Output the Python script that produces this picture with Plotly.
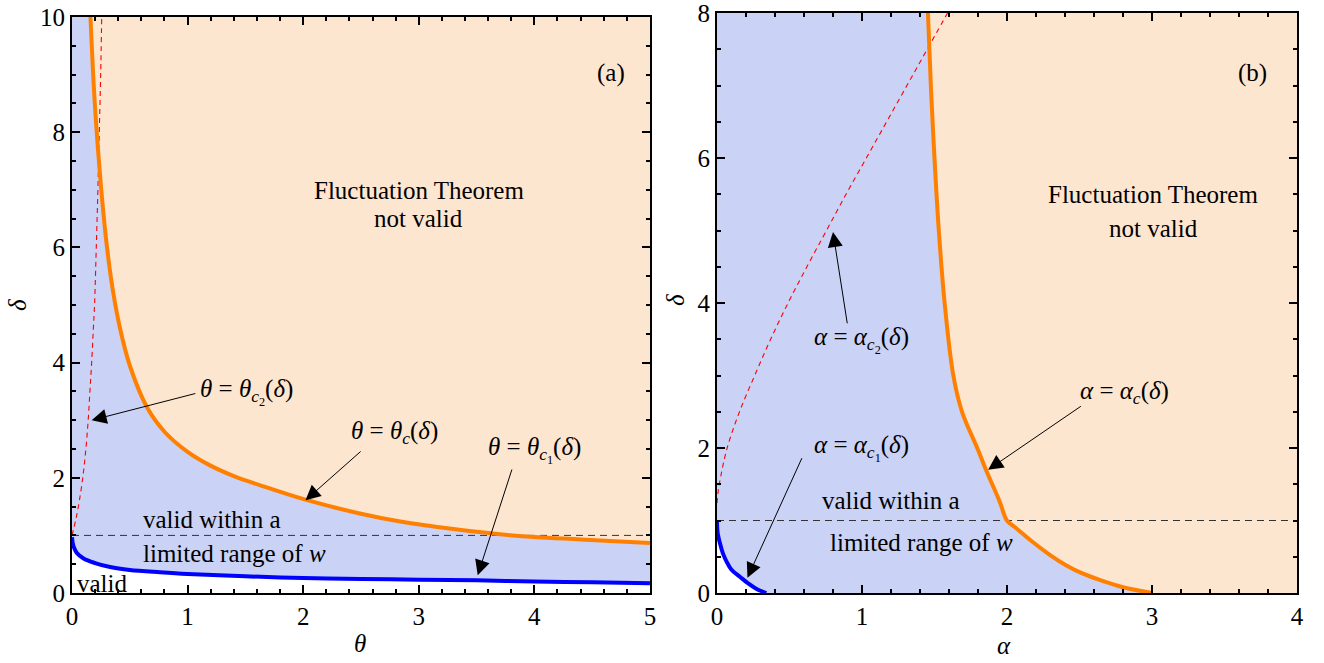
import plotly.graph_objects as go

# ---------------- Panel (a): delta vs theta ----------------
theta_c = [0.16, 0.19, 0.225, 0.26, 0.30, 0.35, 0.415, 0.50, 0.65, 0.80, 1.0, 1.19, 1.40, 1.63, 2.02, 2.49, 2.84, 3.3, 3.81, 4.4, 5.0]
delta_c_a = [10.0, 8.75, 7.7, 6.85, 6.05, 5.3, 4.6, 3.95, 3.22, 2.80, 2.45, 2.22, 2.03, 1.87, 1.62, 1.38, 1.24, 1.11, 1.0, 0.93, 0.87]

theta_c1 = [0, 0.005, 0.015, 0.04, 0.1, 0.2, 0.33, 0.5, 0.76, 1.0, 1.5, 2.0, 2.5, 3.0, 3.5, 4.0, 4.5, 5.0]
delta_c1_a = [0.97, 0.88, 0.80, 0.70, 0.60, 0.52, 0.45, 0.40, 0.36, 0.33, 0.29, 0.26, 0.245, 0.232, 0.22, 0.20, 0.185, 0.17]

delta_c2_a = [1.0, 1.25, 1.5, 2.0, 2.5, 3.0, 3.5, 4.0, 4.56, 5.0, 6.0, 7.0, 8.0, 9.0, 10.0]
theta_c2 = [0, 0.03, 0.055, 0.093, 0.12, 0.14, 0.155, 0.17, 0.184, 0.195, 0.21, 0.224, 0.236, 0.248, 0.257]

# ---------------- Panel (b): delta vs alpha ----------------
delta_c_b = [8, 7, 6, 5, 4, 3, 2.5, 2, 1.7, 1.26, 1.0, 0.9, 0.70, 0.52, 0.38, 0.27, 0.18, 0.08, 0]
alpha_c = [1.455, 1.475, 1.50, 1.53, 1.57, 1.63, 1.69, 1.795, 1.855, 1.95, 2.0, 2.06, 2.18, 2.3, 2.41, 2.52, 2.64, 2.80, 3.0]

alpha_c1 = [0, 0.005, 0.02, 0.04, 0.067, 0.10, 0.16, 0.21, 0.27, 0.34]
delta_c1_b = [1.0, 0.82, 0.69, 0.55, 0.43, 0.32, 0.22, 0.14, 0.06, 0]

delta_c2_b = [1.24, 1.4, 1.6, 2.0, 2.5, 3.0, 3.5, 4.0, 4.5, 5.0, 5.5, 6.0, 6.5, 7.0, 7.5, 8.0]
alpha_c2 = [0, 0.008, 0.025, 0.07, 0.155, 0.26, 0.37, 0.49, 0.62, 0.755, 0.89, 1.03, 1.17, 1.31, 1.45, 1.59]

PEACH = "#FDE6D0"
LAV = "#CAD2F5"
ORANGE = "#FF8000"
FONT = "Liberation Serif"
FS = 25

# page body margin is removed below, so figure pixel = screen pixel
OFF = 0
W, H = 1324, 663
ML = 72 - OFF
MR = W - (1297 - OFF)
MB = H - (593 - OFF)
MT = 0
PW = W - ML - MR
PH = H - MB - MT

fig = go.Figure()

# ---- panel (a) fills ----
lav_a_x = [0] + theta_c + [5.0] + theta_c1[::-1]
lav_a_y = [10] + delta_c_a + [delta_c1_a[-1]] + delta_c1_a[::-1]
fig.add_trace(go.Scatter(x=lav_a_x, y=lav_a_y, fill="toself", fillcolor=LAV, mode="none",
                         xaxis="x", yaxis="y", hoverinfo="skip"))
wh_a_x = [0] + theta_c1 + [5.0, 0]
wh_a_y = [0] + delta_c1_a + [0, 0]
fig.add_trace(go.Scatter(x=wh_a_x, y=wh_a_y, fill="toself", fillcolor="white", mode="none",
                         xaxis="x", yaxis="y", hoverinfo="skip"))
# lines (a)
fig.add_trace(go.Scatter(x=[0, 5], y=[1, 1], mode="lines", line=dict(color="#333", width=1, dash="7px,5px"),
                         xaxis="x", yaxis="y"))
fig.add_trace(go.Scatter(x=theta_c2, y=delta_c2_a, mode="lines",
                         line=dict(color="#FF0000", width=1.1, dash="5px,4px", shape="spline"),
                         xaxis="x", yaxis="y"))
fig.add_trace(go.Scatter(x=theta_c, y=delta_c_a, mode="lines", line=dict(color=ORANGE, width=4, shape="spline"),
                         xaxis="x", yaxis="y"))
fig.add_trace(go.Scatter(x=theta_c1, y=delta_c1_a, mode="lines", line=dict(color="#0000FF", width=4, shape="spline"),
                         xaxis="x", yaxis="y"))

# ---- panel (b) fills ----
lav_b_x = [0] + alpha_c + alpha_c1[::-1]
lav_b_y = [8] + delta_c_b + delta_c1_b[::-1]
fig.add_trace(go.Scatter(x=lav_b_x, y=lav_b_y, fill="toself", fillcolor=LAV, mode="none",
                         xaxis="x2", yaxis="y2", hoverinfo="skip"))
wh_b_x = [0] + alpha_c1 + [0]
wh_b_y = [0] + delta_c1_b + [0]
fig.add_trace(go.Scatter(x=wh_b_x, y=wh_b_y, fill="toself", fillcolor="white", mode="none",
                         xaxis="x2", yaxis="y2", hoverinfo="skip"))
fig.add_trace(go.Scatter(x=[0, 4], y=[1, 1], mode="lines", line=dict(color="#333", width=1, dash="7px,5px"),
                         xaxis="x2", yaxis="y2"))
fig.add_trace(go.Scatter(x=alpha_c2, y=delta_c2_b, mode="lines",
                         line=dict(color="#FF0000", width=1.1, dash="5px,4px", shape="spline"),
                         xaxis="x2", yaxis="y2"))
fig.add_trace(go.Scatter(x=alpha_c, y=delta_c_b, mode="lines", line=dict(color=ORANGE, width=4, shape="spline"),
                         xaxis="x2", yaxis="y2"))
fig.add_trace(go.Scatter(x=alpha_c1, y=delta_c1_b, mode="lines", line=dict(color="#0000FF", width=4, shape="spline"),
                         xaxis="x2", yaxis="y2"))

axis_common = dict(showline=True, linecolor="black", linewidth=2, mirror="allticks",
                   ticks="inside", ticklen=8, tickwidth=1.5, tickcolor="black",
                   showgrid=False, zeroline=False, automargin=False,
                   ticklabeloverflow="allow",
                   tickfont=dict(family=FONT, size=FS, color="black"))

fig.update_layout(
    width=W, height=H,
    margin=dict(l=ML, r=MR, t=MT, b=MB, autoexpand=False),
    paper_bgcolor="white", plot_bgcolor=PEACH,
    showlegend=False,
    font=dict(family=FONT, size=FS, color="black"),
    xaxis=dict(domain=[0, 578 / PW], range=[0, 5.0005], dtick=1, anchor="y",
               minor=dict(ticks="inside", ticklen=4, dtick=0.2, tickcolor="black"), **axis_common),
    yaxis=dict(domain=[0, (PH - (17 - OFF)) / PH], range=[0, 10.0005], dtick=2, anchor="x",
               minor=dict(ticks="inside", ticklen=4, dtick=0.5, tickcolor="black"), **axis_common),
    xaxis2=dict(domain=[645 / PW, 1], range=[0, 4.0004], dtick=1, anchor="y2",
                minor=dict(ticks="inside", ticklen=4, dtick=0.2, tickcolor="black"), **axis_common),
    yaxis2=dict(domain=[0, (PH - (13 - OFF)) / PH], range=[0, 8.0005], dtick=2, anchor="x2",
                minor=dict(ticks="inside", ticklen=4, dtick=0.5, tickcolor="black"), **axis_common),
)

ann = []
def txt(x, y, s, xr="x", yr="y", **kw):
    ann.append(dict(x=x, y=y, xref=xr, yref=yr, text=s, showarrow=False,
                    font=dict(family=FONT, size=FS, color="black"), **kw))

def arrow(x, y, ax, ay, xr="x", yr="y"):
    ann.append(dict(x=x, y=y, ax=ax, ay=ay, xref=xr, yref=yr, axref=xr, ayref=yr, text="",
                    showarrow=True, arrowhead=2, arrowsize=3, arrowwidth=1, arrowcolor="black",
                    standoff=0, startstandoff=0))

# panel (a) texts
txt(3.0, 6.98, "Fluctuation Theorem")
txt(3.0, 6.51, "not valid")
txt(4.66, 9.03, "(a)")
txt(1.21, 1.27, "valid within a")
txt(1.41, 0.69, "limited range of <i>w</i>")
txt(0.26, 0.17, "valid")
txt(1.51, 3.49, "<i>θ</i> = <i>θ</i><sub><i>c</i><sub>2</sub></sub>(<i>δ</i>)")
txt(2.79, 2.78, "<i>θ</i> = <i>θ</i><sub><i>c</i></sub>(<i>δ</i>)")
txt(4.0, 2.48, "<i>θ</i> = <i>θ</i><sub><i>c</i><sub>1</sub></sub>(<i>δ</i>)")
arrow(0.17, 3.0, 1.08, 3.47)
arrow(2.02, 1.61, 2.51, 2.48)
arrow(3.51, 0.31, 3.81, 2.17)

# panel (b) texts
txt(3.01, 5.49, "Fluctuation Theorem", "x2", "y2")
txt(3.01, 5.03, "not valid", "x2", "y2")
txt(3.69, 7.17, "(b)", "x2", "y2")
txt(1.2, 1.28, "valid within a", "x2", "y2")
txt(1.41, 0.69, "limited range of <i>w</i>", "x2", "y2")
txt(1.0, 3.49, "<i>α</i> = <i>α</i><sub><i>c</i><sub>2</sub></sub>(<i>δ</i>)", "x2", "y2")
txt(1.0, 2.0, "<i>α</i> = <i>α</i><sub><i>c</i><sub>1</sub></sub>(<i>δ</i>)", "x2", "y2")
txt(2.81, 2.76, "<i>α</i> = <i>α</i><sub><i>c</i></sub>(<i>δ</i>)", "x2", "y2")
arrow(0.80, 4.98, 0.90, 3.70, "x2", "y2")
arrow(0.21, 0.21, 0.59, 1.88, "x2", "y2")
arrow(1.87, 1.70, 2.52, 2.59, "x2", "y2")

# axis titles (screen pixel positions converted to paper coords)
for (px, py, s, rot) in [(360, 643, "<i>θ</i>", 0), (1004, 645, "<i>α</i>", 0),
                         (17, 305, "<i>δ</i>", -90), (675, 300, "<i>δ</i>", -90)]:
    fx, fy = px - OFF, py - OFF
    ann.append(dict(x=(fx - ML) / PW, y=(H - MB - fy) / PH, xref="paper", yref="paper",
                    text=s, showarrow=False, textangle=rot,
                    font=dict(family=FONT, size=FS, color="black"),
                    xanchor="center", yanchor="middle"))

fig.update_layout(annotations=ann)

fig.write_html("out.html", config={"displayModeBar": False},
               post_script="document.body.style.margin='0';document.body.style.overflow='hidden';")
